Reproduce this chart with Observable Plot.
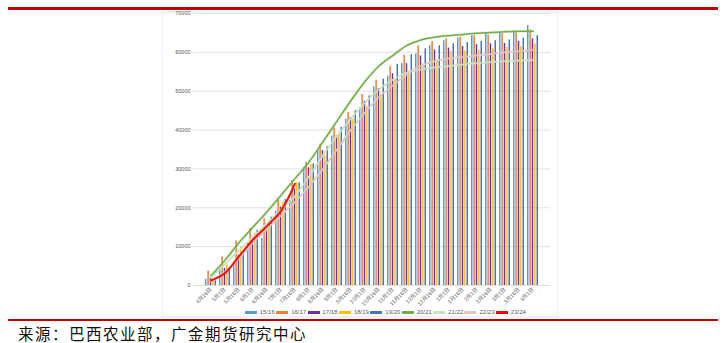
<!DOCTYPE html>
<html>
<head>
<meta charset="utf-8">
<script src="https://cdn.jsdelivr.net/npm/d3@7"></script>
<script src="https://cdn.jsdelivr.net/npm/@observablehq/plot@0.6"></script>
<style>
  html, body { margin: 0; padding: 0; background: #fff; }
  #wrap { position: relative; width: 725px; height: 343px; overflow: hidden; font-family: "Liberation Sans", "Noto Sans CJK SC", sans-serif; }
  .rule { position: absolute; left: 8px; width: 710px; background: #C00000; }
  #frame { position: absolute; left: 162px; top: 11px; width: 396px; height: 306px; border: 1px solid #eeeeee; box-sizing: border-box; }
  #chart { position: absolute; left: 0; top: 10px; }
  #legend { position: absolute; left: 0; top: 309px; width: 725px; display: flex; justify-content: center; padding-left: 47px; box-sizing: border-box; }
  .item { display: flex; align-items: center; width: 31.4px; font-size: 6px; line-height: 6px; color: #595959; }
  .sw { width: 12px; height: 3px; margin-right: 3px; }
  #caption { position: absolute; left: 18px; top: 324px; height: 18px; line-height: 18px; font-family: "Noto Sans CJK SC", sans-serif; font-size: 15.5px; letter-spacing: 1.5px; color: #111; white-space: nowrap; }
</style>
</head>
<body>
<div id="wrap">
  <div class="rule" style="top:7px;height:2.5px;"></div>
  <div id="frame"></div>
  <div id="chart"></div>
  <div id="legend"></div>
  <div class="rule" style="top:319px;height:2px;"></div>
  <div id="caption">来源：巴西农业部，广金期货研究中心</div>
</div>
<script>
const dates = ["4月16日","5月1日","5月16日","6月1日","6月16日","7月1日","7月16日","8月1日","8月16日","9月1日","9月16日","10月1日","10月16日","11月1日","11月16日","12月1日","12月16日","1月1日","1月16日","2月1日","2月16日","3月1日","3月16日","4月1日"];
const yTicks = [0,10000,20000,30000,40000,50000,60000,70000];

// bar series
const s1516 = [1600,4200,6100,10800,12100,19100,21900,30300,34700,38500,42800,45800,51100,53900,57100,59600,61700,63000,63700,64300,65000,65100,65500,66900];
const s1617 = [3750,7400,11500,14700,17200,22100,27000,31700,36400,40500,44500,49200,52800,56400,59300,61700,62800,63500,63900,64300,64500,64800,65000,65700];
const s1718 = [1900,4400,7800,11700,14200,20200,24900,30300,34700,38500,43200,47400,50700,54500,57100,59100,60600,61100,61500,62000,62200,62300,62800,63500];
const s1819 = [1450,5300,10000,13400,15900,21500,26400,31100,33400,39100,42800,46000,49100,53100,55200,57000,57800,60200,60400,60700,61000,61300,61500,62200];
const s1920 = [1200,4000,8300,14200,17600,22100,26400,31300,35700,40700,45000,48800,53100,56900,59400,60900,61700,62200,62500,62800,63000,63200,63700,64300];

// line series
const s2021 = [2500,6500,11000,15000,19000,23200,27500,31800,37000,42300,47600,52500,56500,59200,61800,63200,63900,64300,64600,64900,65100,65300,65400,65400];
const s2122 = [2000,5500,9000,12500,16000,19500,23000,28000,33500,38500,43000,47000,50500,53000,54800,55600,56100,56500,56900,57200,57500,57700,57900,58000];
const s2223 = [1000,3500,7000,11000,14500,18000,21500,25500,30000,35000,40000,44500,48500,51500,54300,56500,57800,58400,58800,59200,59600,60000,60300,60600];
const s2324 = [1300,3200,7500,11800,15300,19200,26200];

const barSeries = [
  {name: "15/16", values: s1516, color: "#5B9BD5"},
  {name: "16/17", values: s1617, color: "#ED7D31"},
  {name: "17/18", values: s1718, color: "#7030A0"},
  {name: "18/19", values: s1819, color: "#FFC000"},
  {name: "19/20", values: s1920, color: "#4472C4"}
];
const lineSeries = [
  {name: "20/21", values: s2021, color: "#70AD47", width: 1.5},
  {name: "21/22", values: s2122, color: "#C9E3BC", width: 1.5},
  {name: "22/23", values: s2223, color: "#E3C7BD", width: 1.5},
  {name: "23/24", values: s2324, color: "#FF0000", width: 1.7}
];

const W = 725, H = 302, ML = 193, MR = 175, MT = 3, MB = 27;
const pIn = 0.2, pOut = 0.1;
const step = (W - ML - MR) / (dates.length - pIn + 2 * pOut);
const bw = step * (1 - pIn);
const w = bw / barSeries.length;

const marks = [
  Plot.gridY(yTicks, {stroke: "#D9D9D9", strokeOpacity: 1, strokeWidth: 0.8}),
  Plot.axisY(yTicks, {tickSize: 0, tickPadding: 3, fontSize: 5.5, fill: "#595959", label: null, tickFormat: d => String(d)}),
  Plot.axisX({tickRotate: -45, tickSize: 0, tickPadding: 3, fontSize: 5.5, fill: "#595959", label: null}),
  Plot.ruleY([0], {stroke: "#D9D9D9", strokeWidth: 0.8})
];
barSeries.forEach((s, k) => {
  const rows = dates.map((d, i) => ({date: d, value: s.values[i]}));
  marks.push(Plot.barY(rows, {x: "date", y: "value", fill: s.color, insetLeft: k * w, insetRight: (barSeries.length - 1 - k) * w}));
});
lineSeries.forEach(s => {
  const rows = s.values.map((v, i) => ({date: dates[i], value: v}));
  marks.push(Plot.line(rows, {x: "date", y: "value", stroke: s.color, strokeWidth: 3, strokeOpacity: 0.18, curve: "catmull-rom"}));
  marks.push(Plot.line(rows, {x: "date", y: "value", stroke: s.color, strokeWidth: s.width, curve: "catmull-rom"}));
});

const chart = Plot.plot({
  width: W, height: H,
  marginLeft: ML, marginRight: MR, marginTop: MT, marginBottom: MB,
  style: {fontFamily: '"Liberation Sans", "Noto Sans CJK SC", sans-serif', fontSize: "5.5px", background: "transparent"},
  x: {type: "band", domain: dates, paddingInner: pIn, paddingOuter: pOut, axis: null},
  y: {domain: [0, 70000], axis: null},
  marks
});
document.getElementById("chart").appendChild(chart);

const legend = document.getElementById("legend");
[...barSeries, ...lineSeries].forEach(s => {
  const it = document.createElement("div");
  it.className = "item";
  const sw = document.createElement("div");
  sw.className = "sw";
  sw.style.background = s.color;
  const t = document.createElement("span");
  t.textContent = s.name;
  it.appendChild(sw); it.appendChild(t);
  legend.appendChild(it);
});
</script>
</body>
</html>
